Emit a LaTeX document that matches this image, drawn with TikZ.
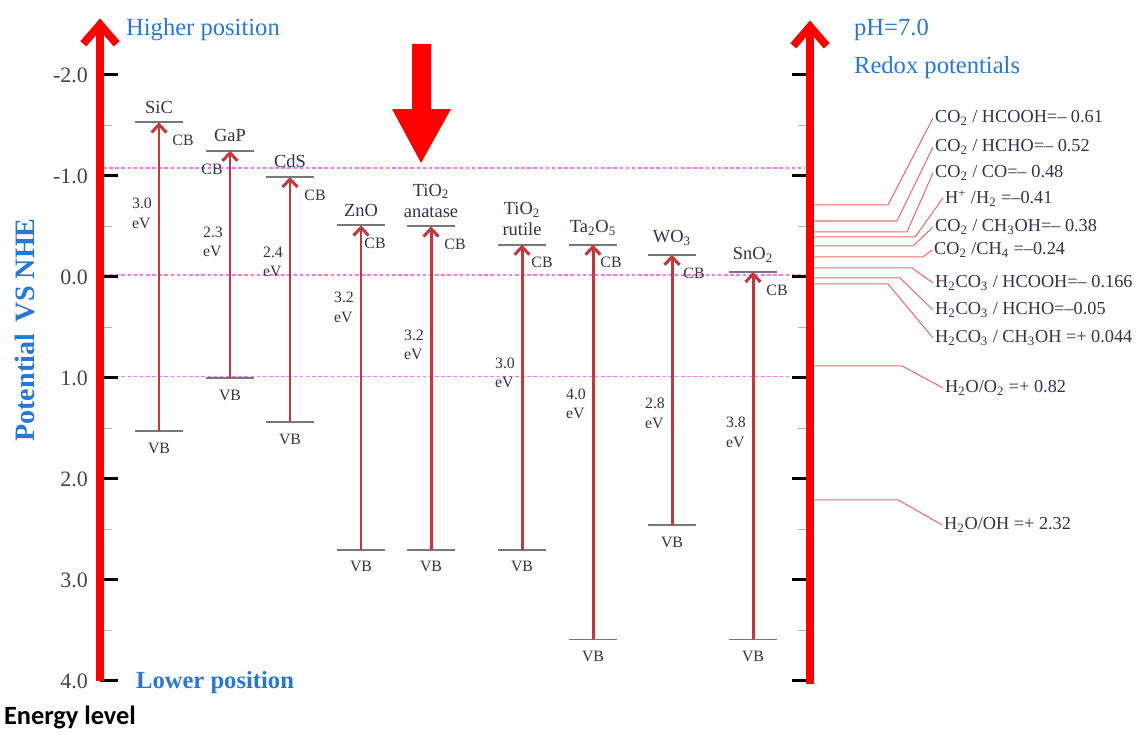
\documentclass[tikz,border=0pt]{standalone}
\usepackage{fontspec}
\setmainfont{Liberation Serif}
\newfontfamily\calibri{Carlito}
\usetikzlibrary{arrows.meta}
\definecolor{axisred}{RGB}{255,0,0}
\definecolor{bandred}{RGB}{195,55,60}
\definecolor{levelgray}{RGB}{120,120,120}
\definecolor{txtblue}{RGB}{40,120,210}
\definecolor{darktxt}{RGB}{50,50,75}
\definecolor{redoxline}{RGB}{228,110,110}
\definecolor{tickblue}{RGB}{150,185,225}
\definecolor{dashmag}{RGB}{255,110,255}
\begin{document}
\begin{tikzpicture}[x=0.02cm,y=-2.02cm,
    axis/.style={line width=4.5pt,axisred,-{Straight Barb[length=11pt,width=19pt]}},
    gaparrow/.style={line width=1.7pt,bandred,-{Straight Barb[length=4.5pt,width=8.5pt]}},
    level/.style={line width=1.1pt,levelgray},
    majortick/.style={line width=1.7pt,black},
    minortick/.style={line width=0.6pt,tickblue},
    guide/.style={line width=0.8pt,dashmag,dash pattern=on 2pt off 1.5pt},
    redox/.style={line width=0.6pt,redoxline},
    lbl/.style={font=\fontsize{9}{11}\selectfont,text=darktxt,inner sep=1pt},
    semi/.style={font=\fontsize{10.5}{12}\selectfont,text=darktxt,inner sep=1pt,align=center},
    ticklbl/.style={font=\fontsize{12.5}{14}\selectfont,text=darktxt!80!gray,inner sep=1pt},
    redoxlbl/.style={font=\fontsize{10.4}{12}\selectfont,text=darktxt,inner sep=1pt,anchor=west},
    title/.style={font=\fontsize{14}{16}\selectfont,text=txtblue,inner sep=1pt,anchor=west}]
  \useasboundingbox (0,-2.7426) rectangle (1138,4.5347);

  % guide lines
  \foreach \v in {-1.079,-0.020,0.985}
    \draw[guide] (103,\v) -- (805,\v);

  % semiconductors: number/x/CB/VB/name/gap/gap y/CB label dx
  \foreach \n/\x/\cb/\vb/\nm/\gap/\gy/\cbx in {
      1/159/-1.53/1.53/{SiC}/3.0/-0.63/24,
      2/230/-1.25/1.00/{GaP}/2.3/-0.35/-18,
      3/290/-0.99/1.44/{CdS}/2.4/-0.15/25,
      4/361/-0.51/2.70/{ZnO}/3.2/0.30/14,
      5/431/-0.50/2.70/{TiO\textsubscript{2}\\anatase}/3.2/0.67/24,
      6/522/-0.32/2.70/{TiO\textsubscript{2}\\rutile}/3.0/0.95/20,
      7/593/-0.32/3.59/{Ta\textsubscript{2}O\textsubscript{5}}/4.0/1.26/18,
      8/672/-0.22/2.46/{WO\textsubscript{3}}/2.8/1.35/22,
      9/753/-0.05/3.59/{SnO\textsubscript{2}}/3.8/1.54/24}{
    \coordinate (cb-\n) at (\x,\cb);
    \coordinate (vb-\n) at (\x,\vb);
    \draw[level] (\x-24,\cb) -- (\x+24,\cb);
    \draw[level] (\x-24,\vb) -- (\x+24,\vb);
    \draw[gaparrow] (vb-\n) -- (cb-\n);
    \node[semi,anchor=south] (nm-\n) at (\x,\cb-0.07) {\nm};
    \node[lbl] (cbl-\n) at (\x+\cbx,\cb+0.18) {CB};
    \node[lbl] (vbl-\n) at (\x,\vb+0.17) {VB};
    \node[lbl,anchor=east,align=left] (gap-\n) at (\x-5,\gy) {\gap\\eV};
  }

  % redox potentials: number/level/bend x/text y/text x/text
  \foreach \i/\lv/\bx/\ty/\tx/\txt in {
      1/-0.713/888/-1.574/933/{CO\textsubscript{2} / HCOOH=– 0.61},
      2/-0.554/897/-1.287/933/{CO\textsubscript{2} / HCHO=– 0.52},
      3/-0.446/907/-1.030/933/{CO\textsubscript{2} / CO=– 0.48},
      4/-0.396/915/-0.782/943/{H\textsuperscript{+} /H\textsubscript{2} =–0.41},
      5/-0.307/913/-0.495/933/{CO\textsubscript{2} / CH\textsubscript{3}OH=– 0.38},
      6/-0.198/923/-0.267/932/{CO\textsubscript{2} /CH\textsubscript{4} =–0.24},
      7/-0.089/912/0.059/933/{H\textsubscript{2}CO\textsubscript{3} / HCOOH=– 0.166},
      8/0.010/900/0.327/933/{H\textsubscript{2}CO\textsubscript{3} / HCHO=–0.05},
      9/0.069/888/0.604/933/{H\textsubscript{2}CO\textsubscript{3} / CH\textsubscript{3}OH =+ 0.044},
      10/0.881/902/1.099/943/{H\textsubscript{2}O/O\textsubscript{2} =+ 0.82},
      11/2.208/898/2.455/942/{H\textsubscript{2}O/OH =+ 2.32}}{
    \coordinate (lv\i) at (810,\lv);
    \node[redoxlbl] (rx\i) at (\tx,\ty) {\txt};
    \draw[redox] (lv\i) -- (\bx,\lv) -- (rx\i.west);
  }

  % ticks
  \foreach \v in {-1.5,-0.5,0.5,1.5,2.5,3.5}{
    \draw[minortick] (100,\v) -- (112,\v);
    \draw[minortick] (798,\v) -- (810,\v);
  }
  \foreach \v/\t in {-2/-2.0,-1/-1.0,0/0.0,1/1.0,2/2.0,3/3.0,4/4.0}{
    \draw[majortick] (100,\v) -- (118,\v);
    \draw[majortick] (792,\v) -- (810,\v);
    \node[ticklbl,anchor=east] (t\v) at (90,\v) {\t};
  }

  % axes
  \coordinate (lbot) at (100,4.0);
  \coordinate (ltop) at (100,-2.56);
  \coordinate (rbot) at (810,4.03);
  \coordinate (rtop) at (810,-2.54);
  \draw[axis] (lbot) -- (ltop);
  \draw[axis] (rbot) -- (rtop);

  % labels
  \node[title] (higher) at (124,-2.446) {Higher position};
  \node[title,font=\fontsize{14}{16}\selectfont\bfseries] (lower) at (134,4.02) {Lower position};
  \node[title] (ph) at (852,-2.446) {pH=7.0};
  \node[title] (redox) at (852,-2.069) {Redox potentials};
  \node[font=\fontsize{16}{18}\selectfont\bfseries,text=txtblue,rotate=90,inner sep=1pt] (pot) at (25,0.525) {Potential\, VS NHE};
  \node[font=\calibri\fontsize{15}{17}\selectfont\bfseries,anchor=west,inner sep=1pt] (energy) at (2,4.366) {Energy level};

  % marker arrow
  \fill[axisred] (412,-2.307) -- (431,-2.307) -- (431,-1.663) -- (451,-1.663)
    -- (421,-1.129) -- (392,-1.663) -- (412,-1.663) -- cycle;
\end{tikzpicture}
\end{document}
